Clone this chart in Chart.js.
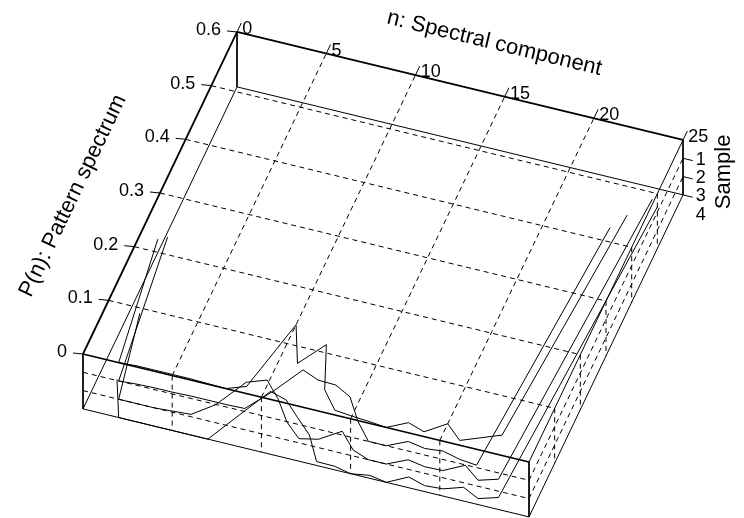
<!DOCTYPE html>
<html>
<head>
<meta charset="utf-8">
<script src="https://cdn.jsdelivr.net/npm/chart.js@4/dist/chart.umd.min.js"></script>
<style>
  html, body { margin: 0; padding: 0; background: #ffffff; }
  #wrap { width: 744px; height: 518px; }
</style>
</head>
<body>
<div id="wrap"><canvas id="chart" width="744" height="518"></canvas></div>
<script>
// ---- data ---------------------------------------------------------------
const components = [1, 2, 3, 4, 5, 6, 7, 8, 9, 10, 11, 12, 13, 14, 15, 16, 17, 18, 19, 20, 21, 22, 23, 24];
const sample1 = [0.222, 0.0, 0.002, 0.002, 0.002, 0.002, 0.001, 0.0, 0.012, 0.135, 0.071, 0.114, 0.038, 0.008, 0.005, 0.003, 0.0, 0.017, 0.008, 0.031, 0.008, 0.021, 0.034, 0.452];
const sample2 = [0.26, 0.0, 0.002, 0.003, 0.003, 0.004, 0.004, 0.004, 0.005, 0.045, 0.093, 0.082, 0.081, 0.067, 0.029, 0.0, 0.0, 0.016, 0.011, 0.014, 0.007, 0.004, 0.455, null];
const sample3 = [0.152, 0.0, 0.0, 0.0, 0.002, 0.004, 0.03, 0.08, 0.092, 0.065, 0.03, 0.007, 0.014, 0.037, 0.01, 0.0, 0.0, 0.016, 0.011, 0.012, 0.03, 0.01, 0.02, 0.55];
const sample4 = [0.063, 0.0, 0.0, 0.0, 0.0, 0.0, 0.0, 0.053, 0.105, 0.097, 0.072, 0.048, 0.0065, 0.006, 0.0, 0.005, 0.0, 0.018, 0.01, 0.012, 0.023, 0.01, 0.02, 0.57];
const samples = [sample1, sample2, sample3, sample4];

const nTicks = [0, 5, 10, 15, 20, 25];
const pTicks = [0, 0.1, 0.2, 0.3, 0.4, 0.5, 0.6];
const sampleTicks = [1, 2, 3, 4];

const nRange = [0, 25];
const pRange = [0, 0.6];
const depthRange = [0, 3];

// ---- oblique view of the (n, P, sample depth) box ------------------------
const view = { ox: 83, oy: 354, nx: 17.84, ny: 4.32, px: 256.7, py: -536.7, dy: 18.3 };
function proj(n, p, d) {
  return { x: view.ox + n * view.nx + p * view.px, y: view.oy + n * view.ny + p * view.py + d * view.dy };
}
const GAP = { x: null, y: null };
function segments(pairs) {
  const out = [];
  pairs.forEach(([a, b]) => { out.push(proj(...a), proj(...b), GAP); });
  return out;
}

const [n0, n1] = nRange, [p0, p1] = pRange, [d0, d1] = depthRange;
const inner = (arr, lo, hi) => arr.filter(v => v > lo && v < hi);

// dashed grid on the three back walls
const gridPairs = [];
inner(pTicks, p0, p1).forEach(p => gridPairs.push([[n0, p, d0], [n1, p, d0]]));
inner(nTicks, n0, n1).forEach(n => gridPairs.push([[n, p0, d0], [n, p1, d0]]));
inner(nTicks, n0, n1).forEach(n => gridPairs.push([[n, p0, d0], [n, p0, d1]]));
[1, 2].forEach(d => gridPairs.push([[n0, p0, d], [n1, p0, d]]));
inner(pTicks, p0, p1).forEach(p => gridPairs.push([[n1, p, d0], [n1, p, d1]]));
[1, 2].forEach(d => gridPairs.push([[n1, p0, d], [n1, p1, d]]));

// box edges
const heavyEdges = [
  [[n0, p0, d0], [n0, p1, d0]],
  [[n0, p1, d0], [n1, p1, d0]],
  [[n0, p0, d0], [n1, p0, d0]]
];
const lightEdges = [
  [[n1, p0, d0], [n1, p1, d0]],
  [[n0, p0, d1], [n0, p1, d1]],
  [[n0, p1, d1], [n1, p1, d1]],
  [[n0, p0, d1], [n1, p0, d1]],
  [[n1, p0, d1], [n1, p1, d1]],
  [[n0, p0, d0], [n0, p0, d1]],
  [[n0, p1, d0], [n0, p1, d1]],
  [[n1, p0, d0], [n1, p0, d1]],
  [[n1, p1, d0], [n1, p1, d1]]
];

// tick marks: P to the left, n along +P, sample along +n
const nUnit = (() => { const l = Math.hypot(view.nx, view.ny); return { x: view.nx / l, y: view.ny / l }; })();
const pUnit = (() => { const l = Math.hypot(view.px, view.py); return { x: view.px / l, y: view.py / l }; })();
const TICK = 10;
const tickPts = [];
const labels = [];
pTicks.forEach(p => {
  const a = proj(n0, p, d0);
  const b = { x: a.x - TICK, y: a.y - 1 };
  tickPts.push(a, b, GAP);
  labels.push({ text: String(p), x: b.x - 6, y: b.y - 1, align: 'right' });
});
nTicks.forEach(n => {
  const a = proj(n, p1, d0);
  const b = { x: a.x + pUnit.x * TICK, y: a.y + pUnit.y * TICK };
  tickPts.push(a, b, GAP);
  labels.push({ text: String(n), x: b.x + 1, y: b.y + 6, align: 'left' });
});
sampleTicks.forEach(s => {
  const a = proj(n1, p1, s);
  const b = { x: a.x + nUnit.x * TICK, y: a.y + nUnit.y * TICK };
  if (s <= d1) tickPts.push(a, b, GAP);
  labels.push({ text: String(s), x: b.x + 3, y: b.y - 1, align: 'left' });
});

const titles = [
  { text: 'n: Spectral component', at: proj(13.2, 0.685, 0), rot: Math.atan2(view.ny, view.nx) },
  { text: 'P(n): Pattern spectrum', at: proj(-4.3, 0.26, 0), rot: Math.atan2(view.py, view.px) },
  { text: 'Sample', at: proj(27.3, 0.6, 1.2), rot: -Math.PI / 2 }
];

const lineDs = (data, width, dash) => ({
  data, showLine: true, borderColor: '#000', borderWidth: width, borderDash: dash || [],
  pointRadius: 0, fill: false, tension: 0, spanGaps: false
});

const datasets = [
  lineDs(segments(gridPairs), 1, [5, 4]),
  lineDs(segments(lightEdges), 1),
  lineDs(segments(heavyEdges), 1.8),
  lineDs(tickPts, 1)
];
samples.forEach((vals, i) => {
  const pts = [];
  components.forEach((n, k) => { if (vals[k] !== null) pts.push(proj(n, vals[k], i)); });
  datasets.push(lineDs(pts, 1));
});

const FONT = '"Liberation Sans", Arial, Helvetica, sans-serif';
const textLayer = {
  id: 'textLayer',
  afterDatasetsDraw(chart) {
    const { ctx, scales: { x: sx, y: sy } } = chart;
    ctx.save();
    ctx.fillStyle = '#000';
    ctx.font = '18px ' + FONT;
    ctx.textBaseline = 'middle';
    labels.forEach(l => {
      ctx.textAlign = l.align;
      ctx.fillText(l.text, sx.getPixelForValue(l.x), sy.getPixelForValue(l.y));
    });
    ctx.font = '22px ' + FONT;
    ctx.textAlign = 'center';
    titles.forEach(t => {
      ctx.save();
      ctx.translate(sx.getPixelForValue(t.at.x), sy.getPixelForValue(t.at.y));
      ctx.rotate(t.rot);
      ctx.fillText(t.text, 0, 0);
      ctx.restore();
    });
    ctx.restore();
  }
};

new Chart(document.getElementById('chart'), {
  type: 'scatter',
  data: { datasets },
  options: {
    responsive: false,
    animation: false,
    layout: { padding: 0 },
    plugins: { legend: { display: false }, tooltip: { enabled: false } },
    scales: {
      x: { type: 'linear', min: 0, max: 744, display: false },
      y: { type: 'linear', min: 0, max: 518, reverse: true, display: false }
    }
  },
  plugins: [textLayer]
});
</script>
</body>
</html>
